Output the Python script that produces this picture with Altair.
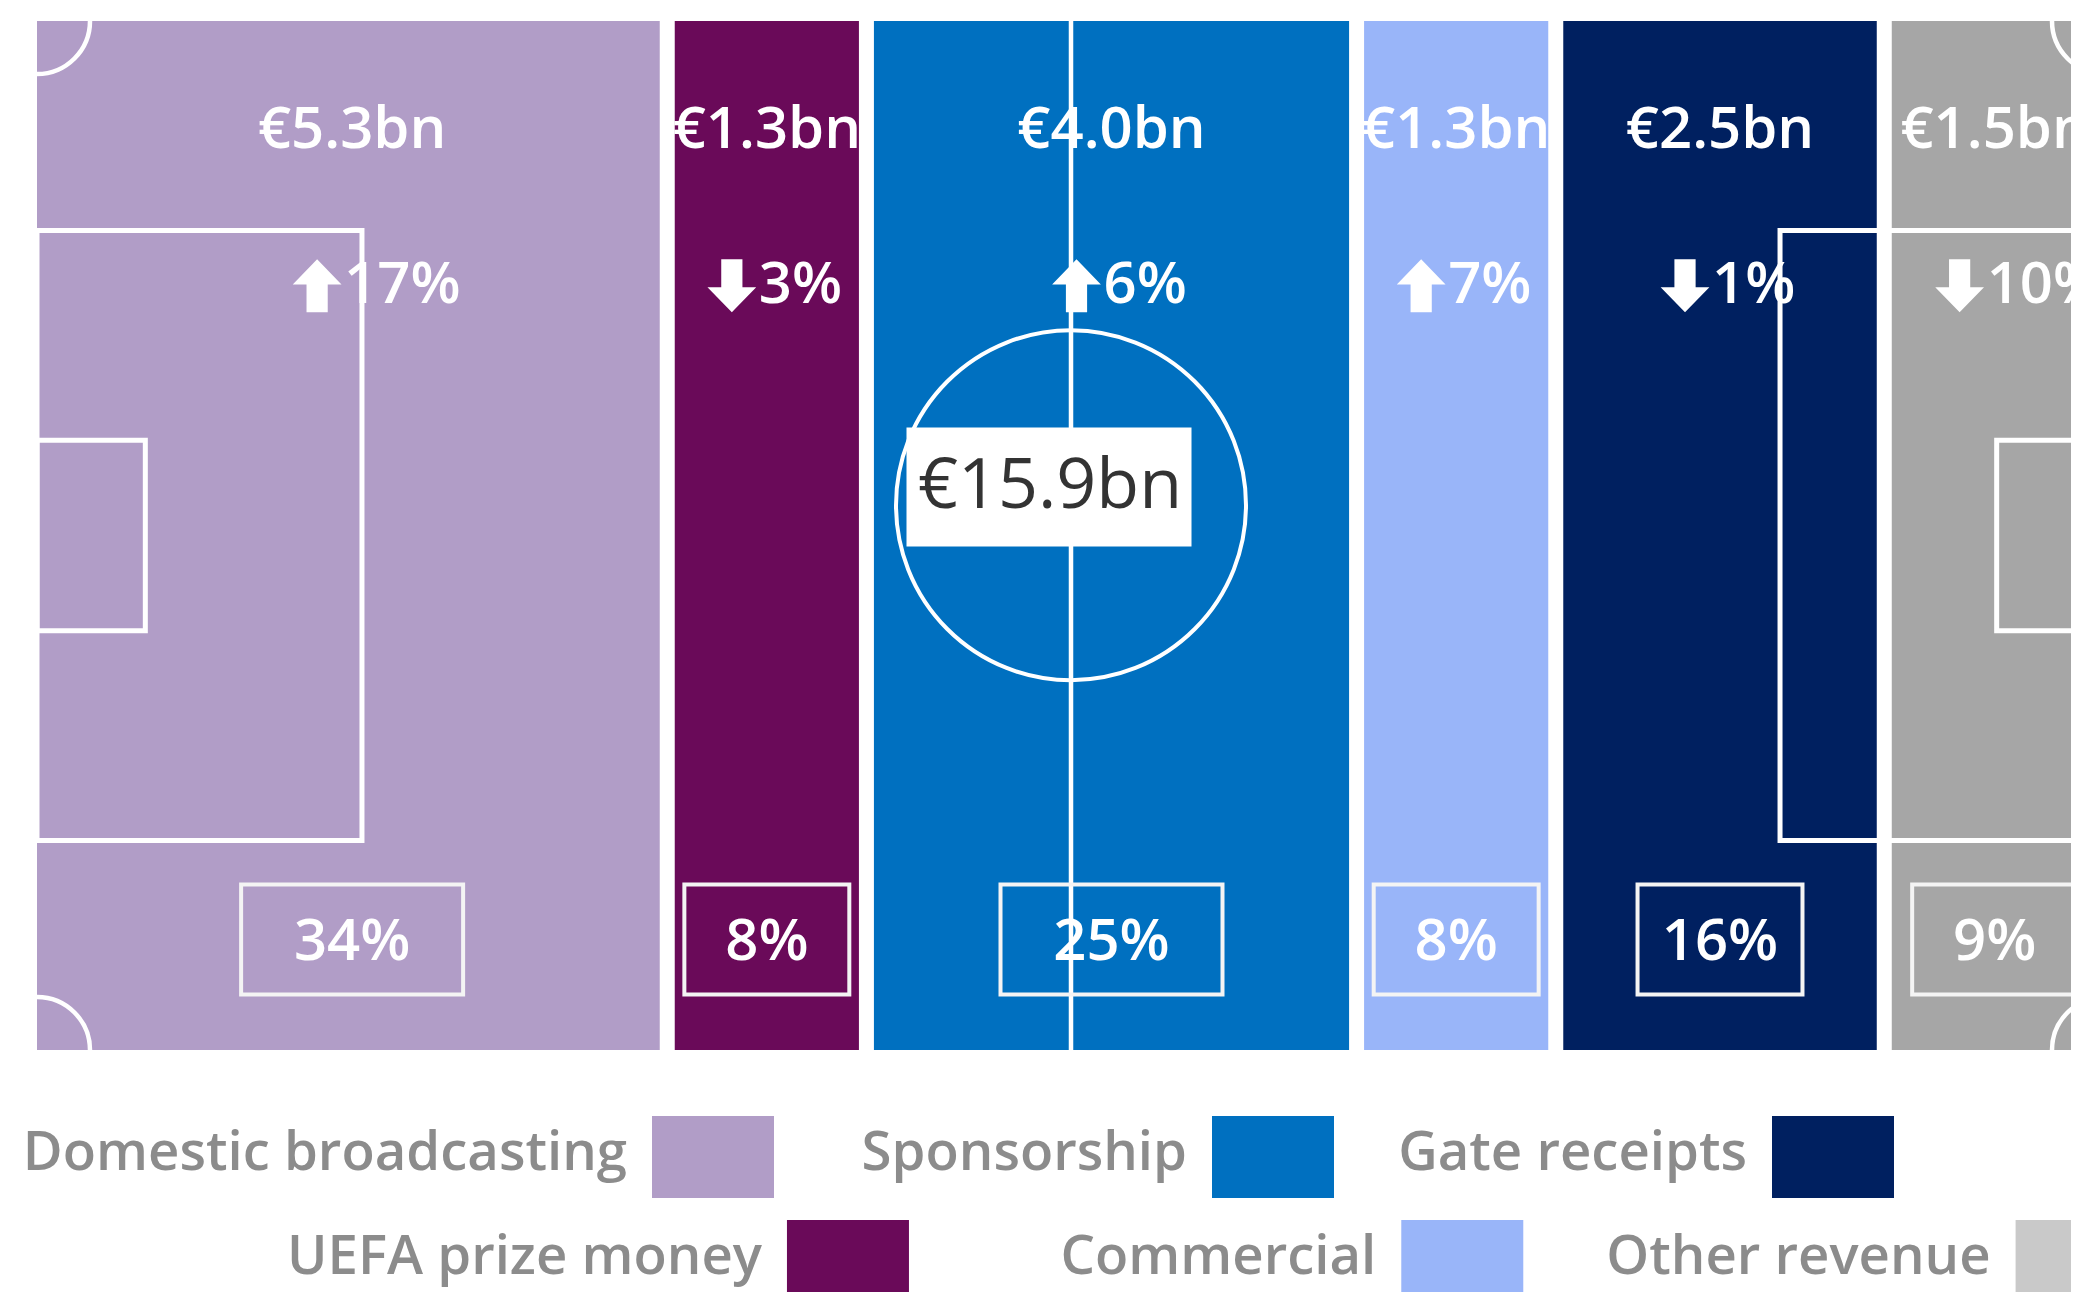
import altair as alt
import pandas as pd

# ---------------- data ----------------
CATEGORIES = ["Domestic broadcasting", "UEFA prize money", "Sponsorship",
              "Commercial", "Gate receipts", "Other revenue"]
VALUES_BN = [5.3, 1.3, 4.0, 1.3, 2.5, 1.5]
SHARE_PCT = [34, 8, 25, 8, 16, 9]
CHANGE_PCT = [17, -3, 6, 7, -1, -10]

STRIPE_COLORS = ["#B19DC7", "#6A0A59", "#0070C0", "#99B5F9", "#002060", "#A6A6A6"]
LEGEND_COLORS = ["#B19DC7", "#6A0A59", "#0070C0", "#99B5F9", "#002060", "#C9C9C9"]
LEGEND_COL = [0, 0, 1, 1, 2, 2]
LEGEND_ROW = [0, 1, 0, 1, 0, 1]

# ---------------- pitch geometry (metres) ----------------
PITCH_L, PITCH_W = 105.0, 68.0
PEN_DEPTH, PEN_WIDTH = 16.5, 40.3
GOAL_DEPTH, GOAL_WIDTH = 5.5, 12.6
CIRCLE_Y = 32.0
STRIPE_BASE = 3.0                     # every stripe gets this minimum width (m)
VALUE_Y, CHANGE_Y, SHARE_Y, TOTAL_Y = 7.27, 17.5, 60.7, 30.8

# ---------------- layout (px) ----------------
PLOT_W, PITCH_H, LEGEND_H = 2055, 1029, 242
PITCH_PX, PITCH_OFFSET_PX = 2068, 21
PX_PER_M = PITCH_PX / PITCH_L
FONT = "Open Sans, DejaVu Sans"

# ---------------- tables ----------------
total = sum(VALUES_BN)
n = len(VALUES_BN)
k = (PITCH_L - n * STRIPE_BASE) / total
df = pd.DataFrame({"category": CATEGORIES, "value": VALUES_BN,
                   "share": SHARE_PCT, "change": CHANGE_PCT})
df["w"] = STRIPE_BASE + k * df["value"]
df["x1"] = df["w"].cumsum()
df["x0"] = df["x1"] - df["w"]
df["xm"] = (df["x0"] + df["x1"]) / 2
df["y0"] = 0.0
df["y1"] = PITCH_W
df["value_label"] = df["value"].map(lambda v: f"€{v:.1f}bn")
df["change_label"] = df["change"].map(lambda c: f"{abs(c)}%")
df["share_label"] = df["share"].map(lambda s: f"{s}%")
df["vy"] = VALUE_Y
df["cy"] = CHANGE_Y
df["sy"] = SHARE_Y

gaps = df.iloc[1:][["x0", "y0", "y1"]]

mid = PITCH_W / 2
boxes = pd.DataFrame({
    "bx0": [0, PITCH_L - PEN_DEPTH, 0, PITCH_L - GOAL_DEPTH],
    "bx1": [PEN_DEPTH, PITCH_L, GOAL_DEPTH, PITCH_L],
    "by0": [mid - PEN_WIDTH / 2, mid - PEN_WIDTH / 2, mid - GOAL_WIDTH / 2, mid - GOAL_WIDTH / 2],
    "by1": [mid + PEN_WIDTH / 2, mid + PEN_WIDTH / 2, mid + GOAL_WIDTH / 2, mid + GOAL_WIDTH / 2],
})
corners = pd.DataFrame({
    "px": [0, 0, PITCH_L, PITCH_L], "py": [0, PITCH_W, 0, PITCH_W],
    "arc": ["M1,0A1,1,0,0,1,0,1", "M1,0A1,1,0,0,0,0,-1",
            "M-1,0A1,1,0,0,0,0,1", "M-1,0A1,1,0,0,1,0,-1"],
})
centre = pd.DataFrame({"px": [PITCH_L / 2], "py": [CIRCLE_Y], "ty": [TOTAL_Y],
                       "y0": [0.0], "y1": [PITCH_W],
                       "label": [f"€{total:.1f}bn"]})

x_min = -PITCH_OFFSET_PX / PX_PER_M
x_max = (PLOT_W - PITCH_OFFSET_PX) / PX_PER_M
xs = alt.Scale(domain=[x_min, x_max], nice=False, zero=False)
ys = alt.Scale(domain=[0, PITCH_W], nice=False, zero=False, reverse=True)
cs = alt.Scale(domain=CATEGORIES, range=STRIPE_COLORS)

base = alt.Chart(df)

stripes = base.mark_rect(clip=True).encode(
    x=alt.X("x0:Q", scale=xs, axis=None), x2="x1:Q",
    y=alt.Y("y0:Q", scale=ys, axis=None), y2="y1:Q",
    color=alt.Color("category:N", scale=cs, legend=None),
)
gap_rules = alt.Chart(gaps).mark_rule(color="white", strokeWidth=15, clip=True).encode(
    x="x0:Q", y="y0:Q", y2="y1:Q")
centre_line = alt.Chart(centre).mark_rule(color="white", strokeWidth=4.5, clip=True).encode(
    x="px:Q", y="y0:Q", y2="y1:Q")
box_marks = alt.Chart(boxes).mark_rect(fillOpacity=0, stroke="white", strokeWidth=5, clip=True).encode(
    x="bx0:Q", x2="bx1:Q", y="by0:Q", y2="by1:Q")
corner_marks = alt.Chart(corners).mark_point(
    size=106 ** 2, filled=False, stroke="white", strokeWidth=4.5,
    opacity=1, clip=True).encode(x="px:Q", y="py:Q",
                                 shape=alt.Shape("arc:N", scale=None))
circle = alt.Chart(centre).mark_point(
    shape="circle", size=350 ** 2, filled=False, stroke="white", strokeWidth=4,
    opacity=1, clip=True).encode(x="px:Q", y="py:Q")
total_box = alt.Chart(centre).mark_point(
    shape="M-1,-0.4175H1V0.4175H-1Z", size=285 ** 2, filled=True, fill="white",
    opacity=1, strokeWidth=0, xOffset=-22).encode(x="px:Q", y="ty:Q")
total_text = alt.Chart(centre).mark_text(
    font=FONT, fontSize=70, color="#333333", baseline="middle", align="center", dx=-21).encode(
    x="px:Q", y="ty:Q", text="label:N")

value_text = base.mark_text(font=FONT, fontSize=58, fontWeight=600, color="white",
                            baseline="middle", align="center", clip=True).encode(
    x="xm:Q", y="vy:Q", text="value_label:N")

UP = "M0,-1L0.92,-0.05L0.4,-0.05L0.4,1L-0.4,1L-0.4,-0.05L-0.92,-0.05Z"
DOWN = "M0,1L0.92,0.05L0.4,0.05L0.4,-1L-0.4,-1L-0.4,0.05L-0.92,0.05Z"
arrows = base.mark_point(filled=True, fill="white", strokeWidth=0, opacity=1,
                         size=53 ** 2, xOffset=-35, clip=True).encode(
    x="xm:Q", y="cy:Q",
    shape=alt.condition(alt.datum.change > 0, alt.value(UP), alt.value(DOWN)))
change_text = base.mark_text(font=FONT, fontSize=58, fontWeight=600, color="white",
                             baseline="middle", align="left", dx=-8, clip=True).encode(
    x="xm:Q", y="cy:Q", text="change_label:N")

WIDE = "M-1,-0.495H1V0.495H-1Z"
NARROW = "M-0.743,-0.495H0.743V0.495H-0.743Z"
share_box = base.mark_point(filled=False, stroke="#F4F4F4", strokeWidth=4, opacity=1,
                            size=222 ** 2, clip=True).encode(
    x="xm:Q", y="sy:Q",
    shape=alt.condition(alt.datum.share >= 20, alt.value(WIDE), alt.value(NARROW)))
share_text = base.mark_text(font=FONT, fontSize=58, fontWeight=600, color="white",
                            baseline="middle", align="center", dy=3, clip=True).encode(
    x="xm:Q", y="sy:Q", text="share_label:N")

pitch = alt.layer(stripes, gap_rules, centre_line, box_marks, corner_marks, circle,
                  total_box, total_text, value_text, arrows, change_text,
                  share_box, share_text
                  ).properties(width=PLOT_W, height=PITCH_H)

# ---------------- legend ----------------
leg = pd.DataFrame({"category": CATEGORIES, "col": LEGEND_COL, "row": LEGEND_ROW})
LEG_UNIT_PX, LEG_FIRST_PX = 560, 697
lx0 = -LEG_FIRST_PX / LEG_UNIT_PX
lxs = alt.Scale(domain=[lx0, lx0 + PLOT_W / LEG_UNIT_PX], nice=False, zero=False)
ROW_PX, ROW0_PX = 104, 107
ly0 = -ROW0_PX / ROW_PX
lys = alt.Scale(domain=[ly0, ly0 + LEGEND_H / ROW_PX], nice=False, zero=False, reverse=True)
lbase = alt.Chart(leg).transform_calculate(
    slot="datum.col * (1 + 0.097 * datum.row) + 0.241 * datum.row")
swatch = lbase.mark_point(shape="M-1,-0.672H1V0.672H-1Z", size=122 ** 2, filled=True,
                          opacity=1, strokeWidth=0, clip=True).encode(
    x=alt.X("slot:Q", scale=lxs, axis=None),
    y=alt.Y("row:Q", scale=lys, axis=None),
    color=alt.Color("category:N", scale=alt.Scale(domain=CATEGORIES, range=LEGEND_COLORS),
                    legend=None))
ltext = lbase.mark_text(font=FONT, fontSize=54.5, fontWeight=600, color="#8C8C8C",
                        align="right", baseline="middle", dx=-86, dy=-3, clip=True).encode(
    x=alt.X("slot:Q", scale=lxs, axis=None),
    y=alt.Y("row:Q", scale=lys, axis=None),
    text="category:N")
legend = alt.layer(swatch, ltext).properties(width=PLOT_W, height=LEGEND_H)

chart = alt.vconcat(pitch, legend, spacing=0).resolve_scale(
    x="independent", y="independent", color="independent"
).properties(
    padding={"left": 8, "top": 13, "right": 0, "bottom": 0}
).configure(background="white", view=alt.ViewConfig(strokeWidth=0))

chart.save("out.html", embed_options={"renderer": "svg", "actions": False})
